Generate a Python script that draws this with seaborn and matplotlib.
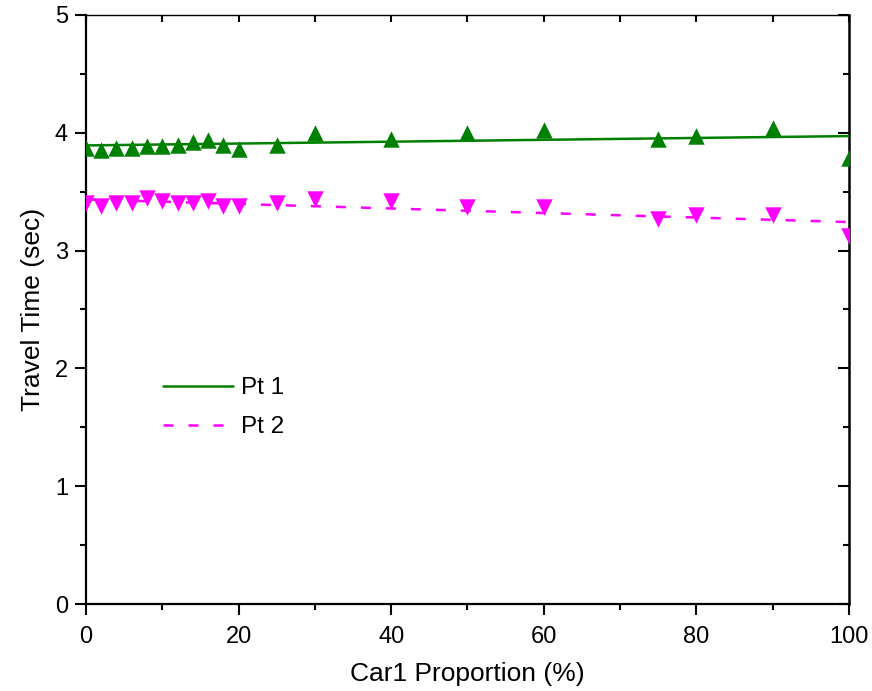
import matplotlib
matplotlib.use('Agg')
import matplotlib.pyplot as plt
import seaborn as sns
import numpy as np
import pandas as pd
from matplotlib.ticker import MultipleLocator

# ---- data ----
proportion = [0, 2, 4, 6, 8, 10, 12, 14, 16, 18, 20, 25, 30, 40, 50, 60, 75, 80, 90, 100]
pt1 = [3.87, 3.85, 3.87, 3.87, 3.89, 3.89, 3.90, 3.92, 3.94, 3.90, 3.86, 3.90,
       4.00, 3.95, 4.00, 4.02, 3.95, 3.97, 4.04, 3.79]
pt2 = [3.40, 3.38, 3.40, 3.40, 3.45, 3.42, 3.40, 3.40, 3.42, 3.38, 3.38, 3.40,
       3.44, 3.42, 3.37, 3.37, 3.27, 3.30, 3.30, 3.12]
series_labels = ["Pt 1", "Pt 2"]
x_label = "Car1 Proportion (%)"
y_label = "Travel Time (sec)"

df = pd.DataFrame({"proportion": proportion, "pt1": pt1, "pt2": pt2})

sns.set_style("ticks")
plt.rcParams['font.family'] = ['Liberation Sans', 'DejaVu Sans']
plt.rcParams['text.color'] = 'black'
plt.rcParams['axes.labelcolor'] = 'black'

fig = plt.figure(figsize=(8.72, 6.91), dpi=100)
ax = fig.add_axes([0.0986, 0.1259, 0.875, 0.8524])

sns.regplot(data=df, x="proportion", y="pt1", ci=None, marker="^", color="#008000",
            scatter_kws={"s": 140, "linewidths": 0, "alpha": 1, "zorder": 3},
            line_kws={"lw": 1.8, "label": series_labels[0], "zorder": 2}, ax=ax)
sns.regplot(data=df, x="proportion", y="pt2", ci=None, marker="v", color="#FF00FF",
            scatter_kws={"s": 140, "linewidths": 0, "alpha": 1, "zorder": 3},
            line_kws={"lw": 1.8, "ls": "--", "dashes": (4.0, 6.0),
                      "label": series_labels[1], "zorder": 2}, ax=ax)

ax.set_xlim(0, 100)
ax.set_ylim(0, 5)
ax.xaxis.set_major_locator(MultipleLocator(20))
ax.xaxis.set_minor_locator(MultipleLocator(10))
ax.yaxis.set_major_locator(MultipleLocator(1))
ax.yaxis.set_minor_locator(MultipleLocator(0.5))

ax.tick_params(axis='both', which='major', direction='out', length=8, width=1.5,
               labelsize=17, color='black', labelcolor='black')
ax.tick_params(axis='x', which='major', pad=8)
ax.tick_params(axis='y', which='major', pad=5)
ax.tick_params(axis='both', which='minor', direction='out', length=4, width=1.5,
               color='black')

for s in ['left', 'bottom']:
    ax.spines[s].set_linewidth(1.6)
    ax.spines[s].set_color('black')
ax.spines['top'].set_visible(False)
ax.spines['right'].set_visible(False)

# top / right axes with inward ticks
secx = ax.secondary_xaxis('top')
secx.xaxis.set_major_locator(MultipleLocator(20))
secx.xaxis.set_minor_locator(MultipleLocator(10))
secx.tick_params(axis='x', which='both', direction='in', labeltop=False, width=1.5,
                 length=5, color='black')
secx.spines['top'].set_linewidth(1.0)
secx.spines['top'].set_color('black')

secy = ax.secondary_yaxis('right')
secy.yaxis.set_major_locator(MultipleLocator(1))
secy.yaxis.set_minor_locator(MultipleLocator(0.5))
secy.tick_params(axis='y', which='both', direction='in', labelright=False, width=1.5, color='black')
secy.tick_params(axis='y', which='major', length=8)
secy.tick_params(axis='y', which='minor', length=4)
secy.spines['right'].set_linewidth(1.8)
secy.spines['right'].set_color('black')

handles, labels = ax.get_legend_handles_labels()
ax.legend(handles, labels, loc='center left', bbox_to_anchor=(0.088, 0.333),
          frameon=False, fontsize=17.5, handlelength=2.9, handletextpad=0.3,
          labelspacing=0.7, borderaxespad=0)

ax.set_xlabel(x_label, fontsize=19, labelpad=10)
ax.set_ylabel(y_label, fontsize=19, labelpad=7)
fig.savefig("out.png", dpi=100)
